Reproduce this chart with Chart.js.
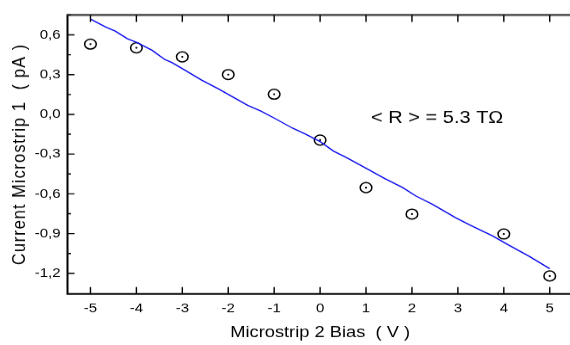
<!DOCTYPE html>
<html>
<head>
<meta charset="utf-8">
<script src="https://cdn.jsdelivr.net/npm/chart.js@4"></script>
<style>
  html, body { margin: 0; padding: 0; background: #fff; overflow: hidden; }
  #chart { display: block; transform: scaleY(0.86); transform-origin: 0 0; }
</style>
</head>
<body>
<canvas id="chart" width="580" height="401"></canvas>
<script>
// measured points: bias (V) vs current (pA)
const bias = [-5, -4, -3, -2, -1, 0, 1, 2, 4, 5];
const current = [0.53, 0.502, 0.434, 0.30, 0.152, -0.194, -0.553, -0.753, -0.903, -1.22];

// linear fit curve
const fitBias = [-5, -4.67, -4.46, -4.2, -3.99, -3.66, -3.38, -3.23, -2.98, -2.58, -2.22, -1.97, -1.58, -1.29, -1.0, -0.6, -0.32, 0.0, 0.29, 0.58, 1.01, 1.4, 1.8, 2.09, 2.45, 2.95, 3.31, 3.75, 4.07, 4.54, 5.0];
const fitCurrent = [0.719, 0.66, 0.628, 0.572, 0.542, 0.484, 0.414, 0.391, 0.341, 0.258, 0.194, 0.145, 0.069, 0.025, -0.028, -0.104, -0.149, -0.205, -0.277, -0.327, -0.408, -0.483, -0.553, -0.617, -0.679, -0.78, -0.843, -0.917, -0.98, -1.069, -1.165];

const xTicks = [-5, -4, -3, -2, -1, 0, 1, 2, 3, 4, 5];
const yTicks = [0.6, 0.3, 0, -0.3, -0.6, -0.9, -1.2];
const yTitle = 'Current Microstrip 1  ( pA )';
const resistance = '< R > = 5.3 TΩ';

const FONT = 'Liberation Sans, Arial, sans-serif';
const points = bias.map((x, i) => ({ x, y: current[i] }));
const fit = fitBias.map((x, i) => ({ x, y: fitCurrent[i] }));

// box with inward ticks, the y title and the resistance label
const frame = {
    id: 'frame',
    afterDraw(chart) {
        const { ctx, chartArea: a, scales: { x, y } } = chart;
        ctx.save();
        ctx.lineWidth = 2;
        ctx.strokeStyle = '#000';
        ctx.beginPath();
        ctx.moveTo(a.left, a.top);
        ctx.lineTo(a.left, a.bottom);
        ctx.lineTo(a.right, a.bottom);
        ctx.lineTo(a.right, a.top);
        ctx.stroke();
        ctx.strokeStyle = '#3a3a3a';
        ctx.lineWidth = 2.3;
        ctx.beginPath();
        ctx.moveTo(a.left - 1, a.top);
        ctx.lineTo(a.right, a.top);
        ctx.stroke();

        ctx.lineWidth = 1.4;
        ctx.strokeStyle = '#000';
        ctx.beginPath();
        xTicks.forEach(v => {
            const px = x.getPixelForValue(v);
            ctx.moveTo(px, a.bottom);
            ctx.lineTo(px, a.bottom - 8);
            ctx.moveTo(px, a.top);
            ctx.lineTo(px, a.top + 8);
        });
        yTicks.forEach(v => {
            const py = y.getPixelForValue(v);
            ctx.moveTo(a.left, py);
            ctx.lineTo(a.left + 7, py);
            const pm = y.getPixelForValue(v + 0.15);
            ctx.moveTo(a.left, pm);
            ctx.lineTo(a.left + 3.5, pm);
        });
        ctx.stroke();

        ctx.fillStyle = '#000';
        ctx.font = '20px ' + FONT;
        ctx.textBaseline = 'alphabetic';
        ctx.fillText(resistance, x.getPixelForValue(1.11), y.getPixelForValue(-0.068));

        ctx.translate(20, (a.top + a.bottom) / 2);
        ctx.rotate(-Math.PI / 2);
        ctx.font = '19px ' + FONT;
        ctx.letterSpacing = '1.2px';
        ctx.textAlign = 'center';
        ctx.textBaseline = 'middle';
        ctx.fillText(yTitle, 0, 0);
        ctx.restore();
    }
};

const chart = new Chart(document.getElementById('chart'), {
    type: 'scatter',
    data: {
        datasets: [
            {
                data: fit,
                showLine: true,
                borderColor: '#1010ee',
                borderWidth: 1.4,
                pointRadius: 0,
                tension: 0
            },
            {
                data: points,
                pointRadius: 5.8,
                pointStyle: 'circle',
                borderColor: '#000',
                borderWidth: 1.5,
                backgroundColor: 'rgba(0,0,0,0)'
            },
            {
                data: points,
                pointRadius: 1.1,
                borderWidth: 0,
                backgroundColor: '#000'
            }
        ]
    },
    options: {
        responsive: false,
        animation: false,
        devicePixelRatio: 1,
        layout: { padding: { top: 17.4, right: 3.5, left: 0, bottom: 0 } },
        plugins: { legend: { display: false }, tooltip: { enabled: false } },
        scales: {
            x: {
                type: 'linear',
                min: -5.5,
                max: 5.5,
                afterFit(s) { s.height = 59.3; },
                afterBuildTicks(s) { s.ticks = xTicks.map(v => ({ value: v })); },
                grid: { display: false, drawTicks: false },
                border: { display: false },
                ticks: {
                    color: '#000',
                    font: { family: FONT, size: 15 },
                    padding: 8,
                    maxRotation: 0,
                    callback: v => String(v)
                },
                title: {
                    display: true,
                    text: 'Microstrip 2 Bias  ( V )',
                    color: '#000',
                    font: { family: FONT, size: 18.3 },
                    padding: { top: 0, bottom: 3 }
                }
            },
            y: {
                type: 'linear',
                min: -1.355,
                max: 0.75,
                afterFit(s) { s.width = 67.5; },
                afterBuildTicks(s) { s.ticks = yTicks.map(v => ({ value: v })); },
                grid: { display: false, drawTicks: false },
                border: { display: false },
                ticks: {
                    color: '#000',
                    font: { family: FONT, size: 15 },
                    padding: 7,
                    callback: v => v.toFixed(1).replace('.', ',')
                }
            }
        }
    },
    plugins: [frame]
});
</script>
</body>
</html>
